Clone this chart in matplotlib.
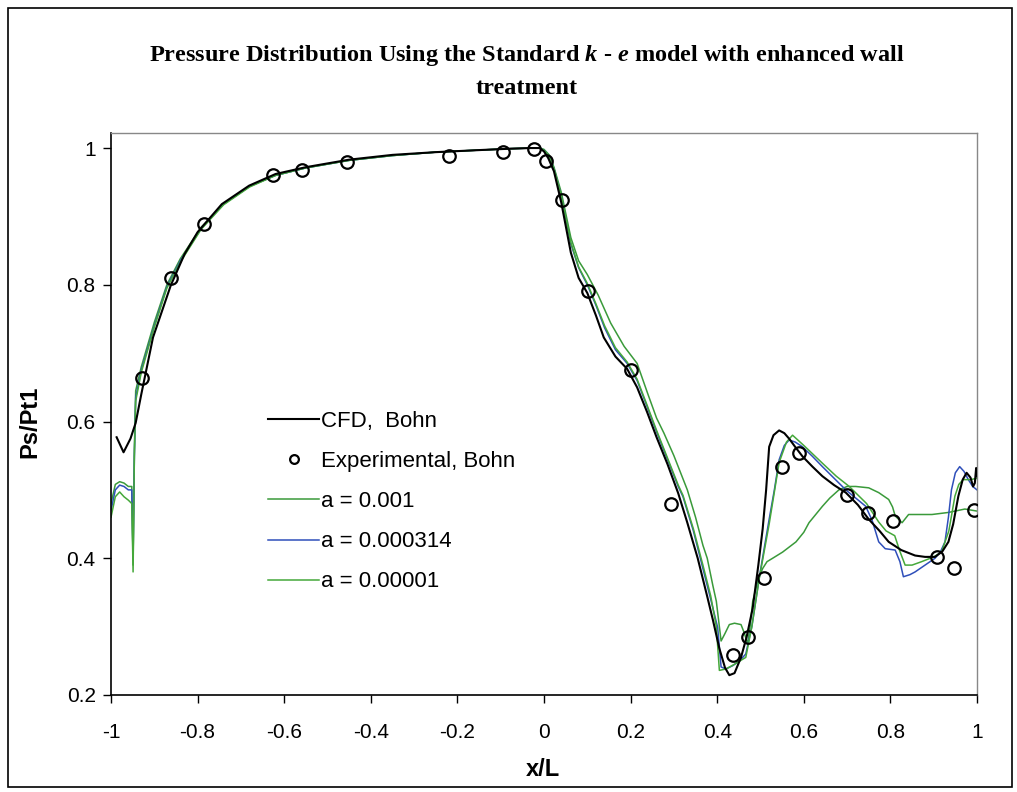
import matplotlib
matplotlib.use("Agg")
import matplotlib.pyplot as plt
from matplotlib.patches import Rectangle
from matplotlib.ticker import FuncFormatter, FixedLocator

plt.rcParams['axes.unicode_minus'] = False
plt.rcParams['font.family'] = ['Liberation Sans', 'DejaVu Sans']
plt.rcParams['mathtext.fontset'] = 'custom'
plt.rcParams['mathtext.it'] = 'Liberation Serif:italic:bold'
plt.rcParams['mathtext.rm'] = 'Liberation Serif:bold'

# ---------------- data ----------------
cfd_x = [-0.987, -0.971, -0.955, -0.943, -0.93, -0.903, -0.862, -0.83, -0.8, -0.744, -0.681, -0.62,
         -0.55, -0.45, -0.35, -0.25, -0.15, -0.08, -0.03, -0.01, 0.0, 0.01, 0.023, 0.04, 0.062, 0.08,
         0.1, 0.12, 0.138, 0.165, 0.192, 0.215, 0.238, 0.26, 0.285, 0.31, 0.331, 0.355, 0.377, 0.39,
         0.405, 0.418, 0.428, 0.44, 0.455, 0.468, 0.482, 0.495, 0.505, 0.513, 0.52, 0.53, 0.543, 0.555,
         0.566, 0.58, 0.597, 0.62, 0.643, 0.67, 0.697, 0.725, 0.75, 0.775, 0.796, 0.825, 0.857, 0.88,
         0.903, 0.92, 0.934, 0.945, 0.957, 0.967, 0.976, 0.985, 0.991, 0.995, 0.998, 1.0]
cfd_y = [0.577, 0.555, 0.575, 0.598, 0.64, 0.723, 0.799, 0.845, 0.877, 0.918, 0.945, 0.962,
         0.972, 0.983, 0.99, 0.994, 0.997, 0.999, 1.0, 1.0, 0.995, 0.985, 0.966, 0.92, 0.847, 0.81,
         0.788, 0.755, 0.723, 0.695, 0.677, 0.65, 0.614, 0.577, 0.538, 0.495, 0.452, 0.4, 0.344, 0.31,
         0.268, 0.24, 0.229, 0.232, 0.255, 0.285, 0.327, 0.39, 0.443, 0.50, 0.563, 0.58, 0.587, 0.583,
         0.575, 0.563, 0.549, 0.534, 0.52, 0.507, 0.496, 0.478, 0.457, 0.44, 0.424, 0.412, 0.404, 0.402,
         0.402, 0.41, 0.424, 0.45, 0.491, 0.515, 0.525, 0.518, 0.505, 0.51, 0.532, 0.52]

exp_x = [-0.928, -0.861, -0.785, -0.625, -0.558, -0.454, -0.219, -0.094, -0.022, 0.004, 0.041,
         0.101, 0.2, 0.293, 0.436, 0.470, 0.507, 0.549, 0.588, 0.699, 0.748, 0.806, 0.908, 0.947, 0.993]
exp_y = [0.664, 0.810, 0.889, 0.960, 0.968, 0.979, 0.988, 0.994, 0.999, 0.981, 0.924,
         0.791, 0.676, 0.479, 0.258, 0.285, 0.371, 0.533, 0.554, 0.492, 0.466, 0.454, 0.402, 0.386, 0.471]

a1_x = [-1.0, -0.99, -0.98, -0.97, -0.96, -0.952, -0.949, -0.946, -0.943, -0.93, -0.9, -0.871, -0.84,
        -0.792, -0.74, -0.68, -0.62, -0.55, -0.45, -0.35, -0.25, -0.15, -0.08, -0.03, -0.01, 0.0, 0.012,
        0.023, 0.04, 0.062, 0.08, 0.1, 0.125, 0.154, 0.185, 0.215, 0.24, 0.26, 0.277, 0.3, 0.331, 0.35,
        0.367, 0.377, 0.39, 0.398, 0.405, 0.409, 0.418, 0.428, 0.44, 0.455, 0.463, 0.47, 0.476, 0.482,
        0.495, 0.505, 0.515, 0.528, 0.551, 0.582, 0.6, 0.612, 0.643, 0.66, 0.681, 0.7, 0.72, 0.75,
        0.773, 0.796, 0.805, 0.811, 0.827, 0.842, 0.87, 0.896, 0.934, 0.972, 1.0]
a1_y = [0.48, 0.508, 0.512, 0.51, 0.505, 0.505, 0.39, 0.56, 0.645, 0.68, 0.745, 0.80, 0.838,
        0.884, 0.918, 0.944, 0.96, 0.971, 0.982, 0.989, 0.994, 0.997, 0.999, 1.0, 1.0, 0.998, 0.99,
        0.972, 0.935, 0.869, 0.835, 0.815, 0.785, 0.744, 0.71, 0.685, 0.64, 0.605, 0.583, 0.55, 0.50, 0.46,
        0.419, 0.40, 0.36, 0.337, 0.30, 0.279, 0.29, 0.303, 0.305, 0.303, 0.29, 0.275, 0.30, 0.337,
        0.37, 0.385, 0.395, 0.40, 0.409, 0.424, 0.438, 0.452, 0.476, 0.488, 0.50, 0.505, 0.505, 0.503,
        0.496, 0.486, 0.475, 0.462, 0.452, 0.464, 0.464, 0.464, 0.467, 0.472, 0.469]

a2_x = [-1.0, -0.99, -0.98, -0.97, -0.96, -0.952, -0.949, -0.946, -0.943, -0.93, -0.9, -0.871, -0.84,
        -0.792, -0.74, -0.68, -0.62, -0.55, -0.45, -0.35, -0.25, -0.15, -0.08, -0.03, -0.01, 0.0, 0.01,
        0.023, 0.04, 0.062, 0.08, 0.1, 0.12, 0.14, 0.165, 0.192, 0.215, 0.238, 0.26, 0.285, 0.31, 0.321,
        0.345, 0.367, 0.385, 0.401, 0.409, 0.42, 0.436, 0.452, 0.466, 0.48, 0.497, 0.51, 0.52, 0.532,
        0.543, 0.555, 0.566, 0.58, 0.597, 0.62, 0.643, 0.67, 0.697, 0.72, 0.743, 0.758, 0.773, 0.788,
        0.811, 0.822, 0.83, 0.845, 0.857, 0.88, 0.903, 0.916, 0.926, 0.934, 0.941, 0.95, 0.96, 0.97,
        0.98, 0.99, 1.0]
a2_y = [0.47, 0.50, 0.507, 0.505, 0.50, 0.50, 0.40, 0.55, 0.635, 0.675, 0.74, 0.797, 0.835,
        0.882, 0.918, 0.944, 0.96, 0.971, 0.982, 0.989, 0.994, 0.997, 0.999, 1.0, 1.0, 0.997, 0.99,
        0.97, 0.93, 0.86, 0.825, 0.80, 0.77, 0.737, 0.705, 0.685, 0.66, 0.622, 0.585, 0.545, 0.505, 0.49,
        0.44, 0.385, 0.34, 0.299, 0.241, 0.238, 0.243, 0.25, 0.26, 0.30, 0.371, 0.42, 0.457, 0.50,
        0.544, 0.565, 0.573, 0.57, 0.563, 0.549, 0.534, 0.517, 0.50, 0.488, 0.476, 0.455, 0.424, 0.414,
        0.412, 0.395, 0.373, 0.376, 0.38, 0.39, 0.40, 0.41, 0.424, 0.46, 0.50, 0.525, 0.534, 0.527,
        0.515, 0.505, 0.50]

a3_x = [-1.0, -0.99, -0.98, -0.97, -0.96, -0.952, -0.949, -0.946, -0.943, -0.93, -0.9, -0.871, -0.84,
        -0.792, -0.74, -0.68, -0.62, -0.55, -0.45, -0.35, -0.25, -0.15, -0.08, -0.03, -0.01, 0.0, 0.01,
        0.023, 0.04, 0.062, 0.08, 0.1, 0.12, 0.14, 0.165, 0.192, 0.215, 0.238, 0.26, 0.285, 0.31, 0.321,
        0.345, 0.367, 0.385, 0.398, 0.405, 0.42, 0.44, 0.466, 0.48, 0.497, 0.52, 0.543, 0.56, 0.574,
        0.6, 0.643, 0.675, 0.705, 0.745, 0.773, 0.79, 0.81, 0.822, 0.834, 0.85, 0.872, 0.9, 0.918,
        0.935, 0.949, 0.958, 0.968, 0.985, 1.0]
a3_y = [0.46, 0.49, 0.497, 0.49, 0.485, 0.48, 0.38, 0.55, 0.63, 0.672, 0.738, 0.795, 0.833,
        0.881, 0.917, 0.943, 0.96, 0.971, 0.982, 0.989, 0.994, 0.997, 0.999, 1.0, 1.0, 0.997, 0.99,
        0.97, 0.93, 0.862, 0.826, 0.802, 0.772, 0.74, 0.708, 0.687, 0.662, 0.624, 0.587, 0.547, 0.507, 0.492,
        0.443, 0.39, 0.345, 0.30, 0.236, 0.238, 0.245, 0.255, 0.30, 0.37, 0.45, 0.54, 0.57, 0.58,
        0.565, 0.539, 0.52, 0.505, 0.48, 0.453, 0.44, 0.433, 0.41, 0.39, 0.39, 0.395, 0.402, 0.409,
        0.44, 0.491, 0.508, 0.515, 0.515, 0.517]

x_ticks = [-1, -0.8, -0.6, -0.4, -0.2, 0, 0.2, 0.4, 0.6, 0.8, 1]
y_ticks = [0.2, 0.4, 0.6, 0.8, 1.0]

labels = ["CFD,  Bohn", "Experimental, Bohn", "a = 0.001", "a = 0.000314", "a = 0.00001"]

# ---------------- figure ----------------
W, H = 1017, 792
fig = plt.figure(figsize=(W / 100, H / 100), dpi=100)
fig.patches.append(Rectangle((8 / W, 1 - 787 / H), 1004 / W, 779 / H, transform=fig.transFigure,
                             fill=False, edgecolor='black', linewidth=1.2, zorder=0))

ax = fig.add_axes([111 / W, 1 - 695 / H, (977 - 111) / W, (695 - 133) / H])

green1 = '#3a9a3a'
blue = '#2f4fba'
green2 = '#45a83a'

l_a1, = ax.plot(a1_x, a1_y, color=green1, lw=1.1, zorder=2)
l_a2, = ax.plot(a2_x, a2_y, color=blue, lw=1.1, zorder=2)
l_a3, = ax.plot(a3_x, a3_y, color=green2, lw=1.1, zorder=2)
l_cfd, = ax.plot(cfd_x, cfd_y, color='black', lw=1.5, zorder=3)
l_exp, = ax.plot(exp_x, exp_y, linestyle='none', marker='o', markersize=9,
                 markerfacecolor='none', markeredgecolor='black', markeredgewidth=1.6, zorder=4)

ax.set_xlim(-1, 1)
ax.set_ylim(0.2, 1.022)
ax.xaxis.set_major_locator(FixedLocator(x_ticks))
ax.yaxis.set_major_locator(FixedLocator(y_ticks))
fmt = FuncFormatter(lambda v, p: ('%g' % round(v, 3)))
ax.xaxis.set_major_formatter(fmt)
ax.yaxis.set_major_formatter(fmt)
ax.tick_params(axis='both', direction='out', length=6, width=1, labelsize=15, colors='black')
ax.tick_params(axis='x', pad=14)
ax.tick_params(axis='y', pad=5)
for s in ['left', 'bottom']:
    ax.spines[s].set_color('black')
    ax.spines[s].set_linewidth(1.2)
for s in ['top', 'right']:
    ax.spines[s].set_color('#888888')
    ax.spines[s].set_linewidth(1.0)

fig.text(543 / W, 1 - 770 / H, 'x/L', ha='center', va='center', fontsize=17, fontweight='bold')
fig.text(30 / W, 1 - 422 / H, 'Ps/Pt1', ha='center', va='center', rotation=90, fontsize=17,
         fontweight='bold')

fig.text(527 / W, 1 - 55 / H,
         r'Pressure Distribution Using the Standard $k$ - $e$ model with enhanced wall',
         ha='center', va='center', fontsize=17.5, fontweight='bold', family='Liberation Serif')
fig.text(527 / W, 1 - 88 / H, 'treatment', ha='center', va='center', fontsize=17.5,
         fontweight='bold', family='Liberation Serif')

leg = ax.legend([l_cfd, l_exp, l_a1, l_a2, l_a3], labels, loc='upper left',
                bbox_to_anchor=(268 / W, 1 - 411 / H), bbox_transform=fig.transFigure,
                frameon=False, fontsize=16, handlelength=2.3, handletextpad=0.1,
                labelspacing=0.86, borderpad=0, borderaxespad=0, markerscale=0.7)

fig.savefig('out.png', dpi=100)
